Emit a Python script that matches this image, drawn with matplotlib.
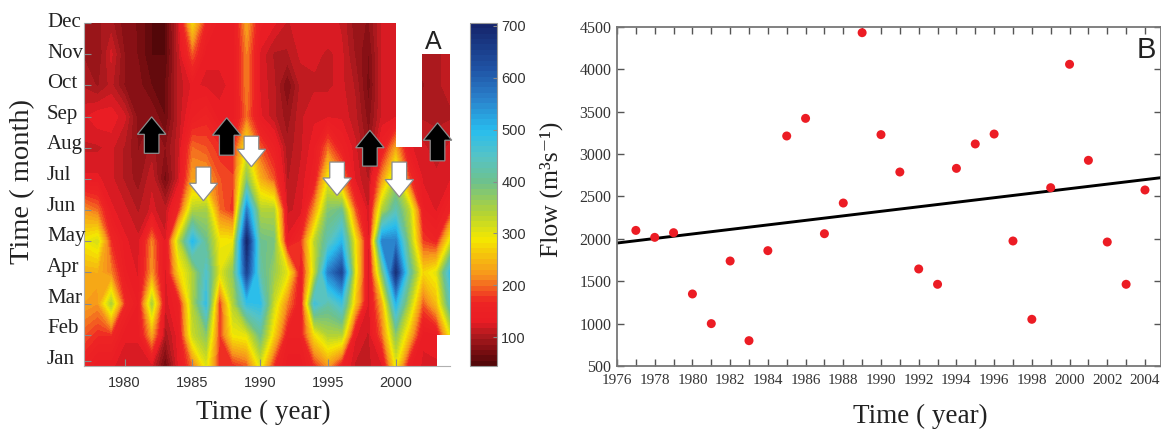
import numpy as np
import matplotlib
matplotlib.use('Agg')
import matplotlib.pyplot as plt
from matplotlib.colors import LinearSegmentedColormap
from matplotlib.patches import FancyArrow
from matplotlib.transforms import blended_transform_factory

plt.rcParams['font.family'] = ['Liberation Serif', 'DejaVu Serif']

W, H = 1161, 429
nan = np.nan

# PANEL A DATA: mean flow per month (Jan to Dec), one list per year
months = ['Jan', 'Feb', 'Mar', 'Apr', 'May', 'Jun', 'Jul', 'Aug', 'Sep', 'Oct', 'Nov', 'Dec']
y1977 = [150, 190, 230, 240, 290, 220, 130, 115, 125, 105, 95, 95]
y1978 = [130, 170, 220, 240, 310, 200, 130, 115, 135, 95, 85, 95]
y1979 = [130, 170, 340, 210, 170, 130, 120, 120, 135, 110, 120, 100]
y1980 = [120, 130, 170, 140, 130, 120, 105, 105, 120, 85, 85, 80]
y1981 = [120, 130, 135, 125, 120, 105, 90, 85, 80, 80, 75, 75]
y1982 = [120, 230, 340, 220, 210, 120, 115, 100, 85, 65, 55, 55]
y1983 = [65, 100, 120, 120, 120, 110, 70, 85, 65, 65, 55, 55]
y1984 = [130, 135, 150, 270, 330, 170, 120, 115, 110, 110, 115, 120]
y1985 = [200, 320, 340, 340, 500, 340, 230, 200, 145, 130, 190, 270]
y1986 = [300, 370, 480, 450, 400, 350, 230, 190, 160, 125, 130, 160]
y1987 = [170, 175, 170, 300, 290, 200, 190, 170, 130, 125, 130, 130]
y1988 = [170, 290, 340, 370, 290, 170, 180, 170, 130, 130, 130, 130]
y1989 = [190, 300, 480, 640, 700, 560, 370, 290, 200, 210, 210, 230]
y1990 = [300, 400, 490, 420, 400, 340, 240, 190, 130, 125, 125, 140]
y1991 = [170, 270, 320, 360, 390, 340, 190, 150, 110, 110, 105, 130]
y1992 = [130, 150, 210, 300, 130, 115, 105, 100, 90, 75, 105, 115]
y1993 = [130, 150, 140, 140, 170, 120, 120, 115, 115, 110, 120, 125]
y1994 = [170, 280, 470, 320, 330, 220, 145, 135, 125, 115, 120, 125]
y1995 = [220, 340, 420, 560, 430, 380, 290, 200, 125, 115, 115, 125]
y1996 = [150, 340, 470, 640, 500, 400, 220, 150, 125, 120, 120, 115]
y1997 = [115, 130, 260, 300, 290, 190, 125, 120, 110, 105, 95, 90]
y1998 = [115, 115, 120, 115, 120, 115, 105, 90, 80, 70, 75, 85]
y1999 = [125, 200, 240, 380, 560, 340, 220, 145, 120, 120, 120, 120]
y2000 = [290, 370, 500, 680, 560, 430, 340, 230, 125, 120, 120, 125]
y2001 = [140, 250, 340, 420, 360, 330, 180, 130, nan, nan, nan, nan]
y2002 = [125, 130, 190, 270, 180, 140, 125, 120, 105, 95, 105, nan]
y2003 = [125, 135, 250, 300, 160, 125, 120, 110, 105, 105, 105, nan]
y2004 = [nan, 290, 430, 480, 300, 160, 125, 120, 105, 110, 110, nan]

grid_years = list(range(1977, 2005))
grid_rows = [y1977, y1978, y1979, y1980, y1981, y1982, y1983, y1984, y1985, y1986,
             y1987, y1988, y1989, y1990, y1991, y1992, y1993, y1994, y1995, y1996,
             y1997, y1998, y1999, y2000, y2001, y2002, y2003, y2004]

# PANEL B DATA
flow_years = list(range(1977, 2005))
flow_values = [2100, 2018, 2073, 1350, 1000, 1739, 799, 1861, 3214, 3422, 2061, 2423, 4433, 3230,
               2789, 1645, 1464, 2832, 3120, 3237, 1975, 1051, 2604, 4060, 2927, 1963, 1464, 2577]
trend_years = [1976, 2004.85]
trend_flow = [1951, 2722]

# colours of the colour bar, by flow value
cmap_stops = [(45, '#4a0507'), (75, '#7d0e12'), (105, '#b01a1f'), (130, '#ea1c24'), (170, '#ee2424'),
              (220, '#f7941d'), (290, '#f4e800'), (340, '#b4d334'), (400, '#6ec18c'), (450, '#56c3c6'),
              (500, '#28bdee'), (560, '#2a82cc'), (620, '#1f52a4'), (705, '#15246a')]
lo, hi = cmap_stops[0][0], cmap_stops[-1][0]
flow_cmap = LinearSegmentedColormap.from_list(
    'flow', [((v - lo) / (hi - lo), c) for v, c in cmap_stops], N=256)

fig = plt.figure(figsize=(W / 100, H / 100), dpi=100)

def add_axes(x0, y0, x1, y1):
    return fig.add_axes([x0 / W, 1 - y1 / H, (x1 - x0) / W, (y1 - y0) / H])

GRAY = '#8a8a8a'
TEXT = '#222222'

# PANEL A
ax1 = add_axes(84, 23, 450, 366)
z = np.ma.masked_invalid(np.array(grid_rows, dtype=float).T)
levels = np.linspace(lo, hi, 65)
cs = ax1.contourf(grid_years, range(1, 13), z, levels=levels, cmap=flow_cmap, corner_mask=False)
ax1.set_xlim(1977, 2004)
ax1.set_ylim(1, 12)
ax1.set_xticks([1980, 1985, 1990, 1995, 2000])
ax1.set_xticklabels(['1980', '1985', '1990', '1995', '2000'], family='Liberation Sans', fontsize=10.5, color='#333333')
ax1.set_yticks([1.16] + list(range(2, 13)))
ax1.set_yticklabels([])
ax1.tick_params(axis='both', direction='in', length=5, width=0.8, color=GRAY)
ax1.tick_params(axis='x', pad=7)
for name, spine in ax1.spines.items():
    spine.set_color('#b0b0b0')
    spine.set_linewidth(0.8)
ax1.spines['top'].set_visible(False)
ax1.spines['right'].set_visible(False)

# month labels sit a bit above their ticks
label_tr = blended_transform_factory(fig.transFigure, ax1.transData)
for name, ypos in zip(months, np.linspace(1.21, 12.02, 12)):
    ax1.text(47 / W, ypos, name, transform=label_tr, ha='left', va='center', fontsize=15, color=TEXT, clip_on=False)

# arrows: x, base y, tip y
black_arrows = [(1981.99, 7.82, 8.99), (1987.53, 7.76, 8.96), (1998.09, 7.41, 8.56), (2003.08, 7.58, 8.80)]
white_arrows = [(1985.81, 7.38, 6.30), (1989.35, 8.37, 7.39), (1995.67, 7.54, 6.47), (2000.26, 7.54, 6.42)]
for arrows, col in [(black_arrows, 'black'), (white_arrows, 'white')]:
    for ax_x, base, tip in arrows:
        ax1.add_patch(FancyArrow(ax_x, base, 0, tip - base, width=1.08, head_width=2.1, head_length=0.56,
                                 length_includes_head=True, facecolor=col, edgecolor='#8c8c8c',
                                 linewidth=0.9, clip_on=False, zorder=5))
fig.text(433 / W, 1 - 42 / H, 'A', family='Liberation Sans', fontsize=18, color=TEXT, ha='center', va='center')

fig.text(23 / W, 1 - 182 / H, 'Time ( month)', rotation=90, fontsize=20.5, color=TEXT, ha='center', va='center')
fig.text(263 / W, 1 - 412 / H, 'Time ( year)', fontsize=19.5, color=TEXT, ha='center', va='center')

# COLOUR BAR
cax = add_axes(470, 23, 497, 366)
cb = fig.colorbar(cs, cax=cax, ticks=[100, 200, 300, 400, 500, 600, 700])
cb.outline.set_edgecolor('#999999')
cb.outline.set_linewidth(0.8)
cax.tick_params(direction='in', length=3, width=0.8, color=GRAY, pad=3)
for t in cax.get_yticklabels():
    t.set_family('Liberation Sans')
    t.set_fontsize(10.5)
    t.set_color('#333333')

# PANEL B
ax2 = add_axes(617, 27, 1161, 366)
ax2.plot(trend_years, trend_flow, color='black', linewidth=2.1, zorder=2)
ax2.scatter(flow_years, flow_values, s=42, color='#ec1c24', edgecolors='none', zorder=3, clip_on=False)
ax2.set_xlim(1976, 2004.85)
ax2.set_ylim(500, 4500)
ax2.set_xticks(range(1976, 2005, 2))
ax2.set_xticks(range(1977, 2005, 2), minor=True)
ax2.set_yticks(range(500, 5000, 500))
ax2.tick_params(axis='both', which='both', direction='in', top=True, right=True, length=5, width=1.0, color='#555555',
                labelcolor='#333333')
ax2.tick_params(axis='x', labelsize=11, pad=6)
ax2.tick_params(axis='y', labelsize=11.5, pad=4)
for spine in ax2.spines.values():
    spine.set_color('#777777')
    spine.set_linewidth(1.3)
fig.text(1146 / W, 1 - 50 / H, 'B', family='Liberation Sans', fontsize=21, color=TEXT, ha='center', va='center')
fig.text(551 / W, 1 - 189 / H, 'Flow (m³s⁻¹)', rotation=90, fontsize=18.5, color=TEXT, ha='center', va='center')
fig.text(920 / W, 1 - 416 / H, 'Time ( year)', fontsize=19.5, color=TEXT, ha='center', va='center')

fig.savefig('out.png', dpi=100)
